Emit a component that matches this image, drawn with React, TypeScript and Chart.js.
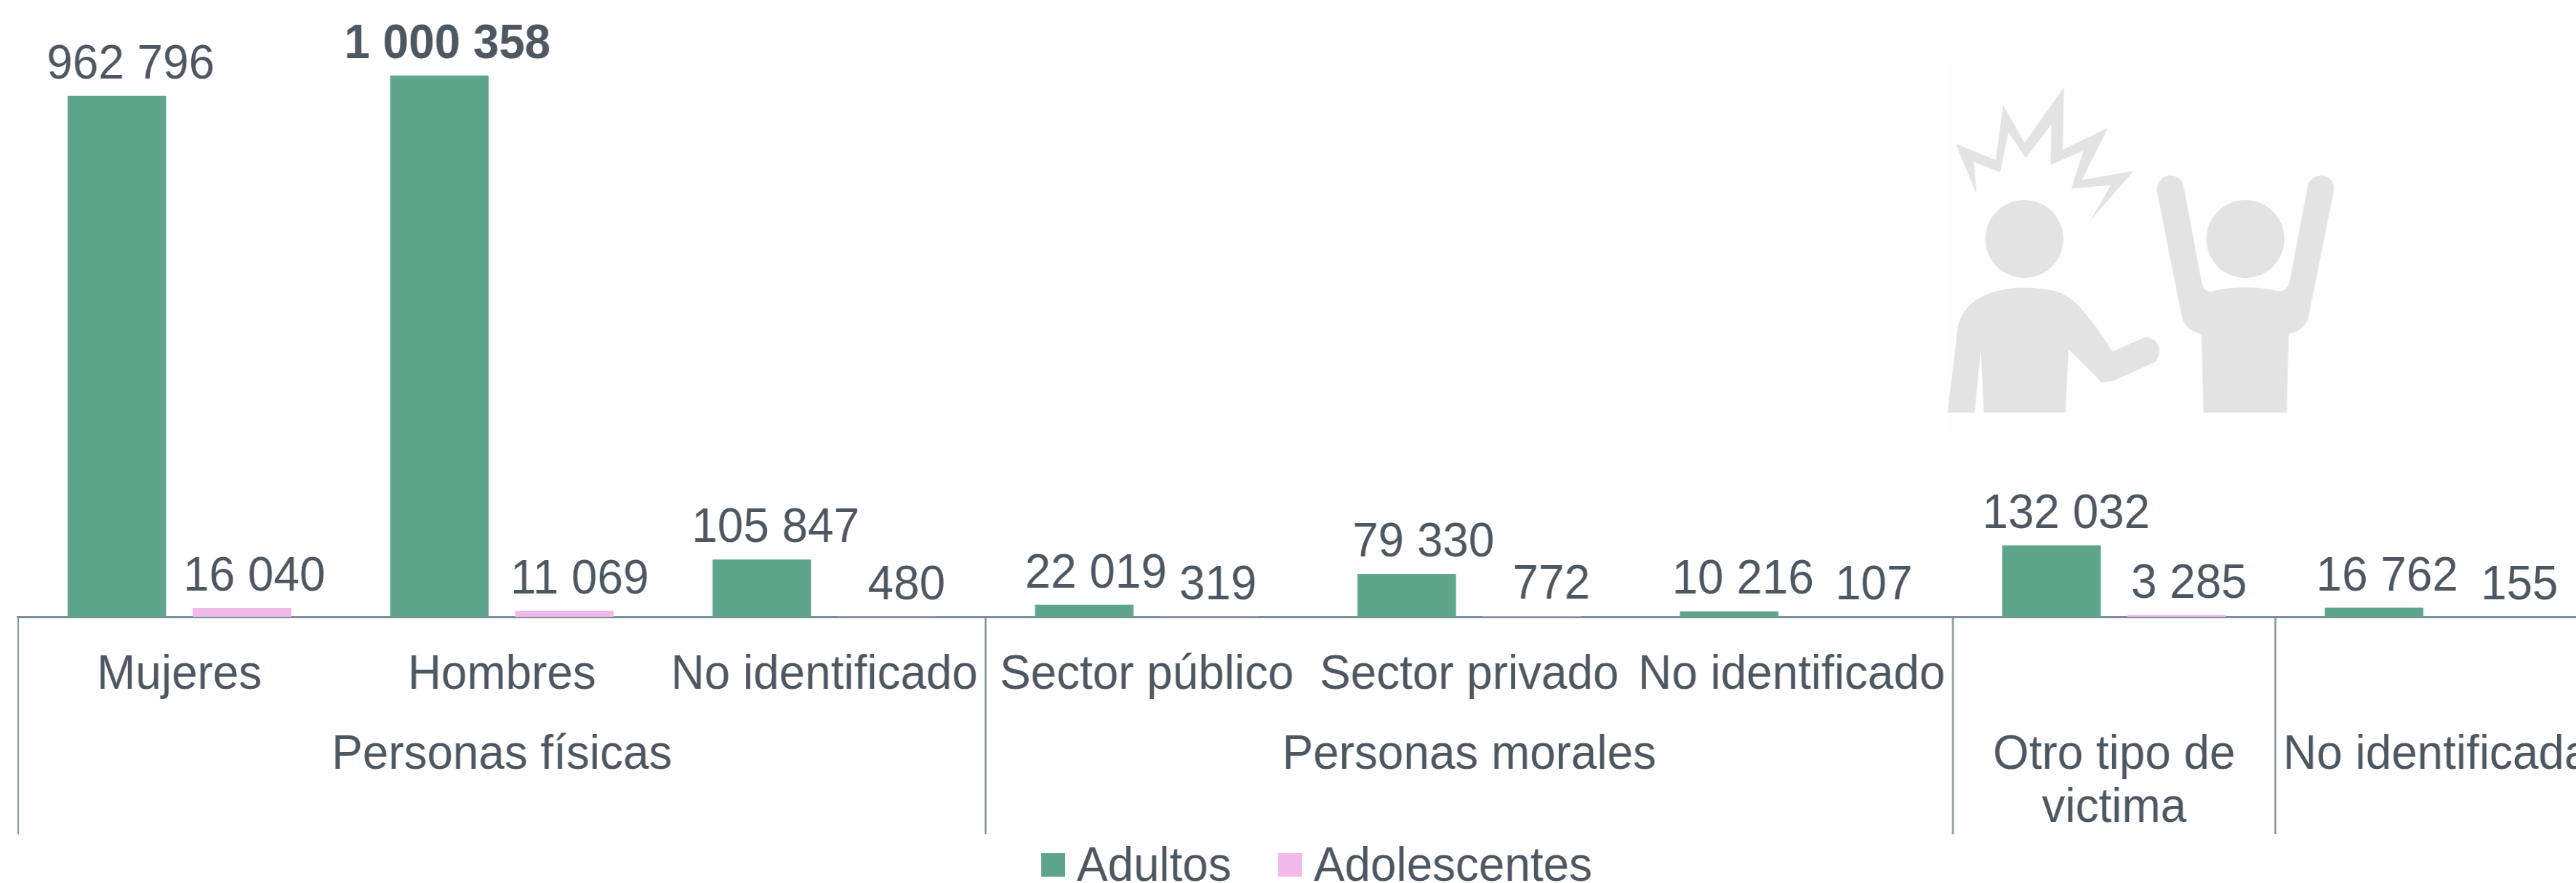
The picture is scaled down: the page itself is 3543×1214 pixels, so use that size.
import React, { useEffect, useRef } from "react";
import { Chart, registerables } from "chart.js";

Chart.register(...registerables);

const categories = ["Mujeres", "Hombres", "No identificado", "Sector público", "Sector privado", "No identificado", "", ""];
const adultos = [962796, 1000358, 105847, 22019, 79330, 10216, 132032, 16762];
const adolescentes = [16040, 11069, 480, 319, 772, 107, 3285, 155];
const groups = [
  { lines: ["Personas físicas"], from: 0, to: 2 },
  { lines: ["Personas morales"], from: 3, to: 5 },
  { lines: ["Otro tipo de", "victima"], from: 6, to: 6 },
  { lines: ["No identificada"], from: 7, to: 7 },
];
const seriesNames = ["Adultos", "Adolescentes"];

// Horizontal nudges of the value labels relative to their bars
const adultLabelShift = [19, 11, 19, 16, 23, 19, 20, 18];
const teenLabelShift = [17, 21, 27, 12, 27, 27, 17, 28];

const GREEN = "#5fa58c";
const PINK = "#f0b9e9";
const TEXT = "#4d5761";
const AXIS = "#7f8e9b";
const FONT = "'Liberation Sans', Arial, sans-serif";
const SIZE = 66;
// The reference's type is slightly condensed, so the whole canvas is drawn wider and narrowed by this factor.
const SX = 0.967;
const CANVAS_W = 3720;

const fmt = (v: number) => String(v).replace(/\B(?=(\d{3})+(?!\d))/g, " ");

// The square sits in the top of a taller image, which lifts it slightly against the legend text.
const squareMark = (color: string) => {
  const c = document.createElement("canvas");
  c.width = Math.round(33 / SX);
  c.height = 41;
  const g = c.getContext("2d")!;
  g.fillStyle = color;
  g.fillRect(0, 0, c.width, 33);
  return c;
};

const iconPlugin = {
  id: "icon",
  beforeDatasetsDraw(chart: any) {
    const { ctx } = chart;
    ctx.save();
    ctx.scale(1 / SX, 1);
    ctx.fillStyle = "#fefefe";
    ctx.fillRect(2678, 80, 532, 523);
    ctx.translate(2500, 60);
    ctx.scale(1 / 1.96, 1 / 2.8);
    ctx.fillStyle = "#e3e3e3";
    const paths = [
      "M372,385 L480,448 L500,238 L558,382 L664,168 L660,408 L782,325 L712,525 L852,490 L736,678 L790,545 L684,557 L716,412 L628,467 L630,310 L561,440 L514,340 L492,495 L421,455 L428,578 Z",
      "M350,1420 L378,1090 C390,1020 430,950 540,940 C620,938 670,950 710,1020 L750,1090 L795,1185 L880,1132 C915,1125 935,1185 910,1225 L795,1300 L765,1303 L676,1175 L668,1420 L448,1420 L440,1175 L423,1420 Z",
      "M1040,1420 L1035,1118 C1000,1105 985,1080 980,1040 L915,570 C910,490 985,490 987,555 L1035,920 C1040,950 1050,960 1075,950 C1120,935 1190,935 1230,950 C1255,960 1265,945 1272,920 L1320,555 C1325,490 1400,490 1391,570 L1325,1040 C1320,1080 1305,1105 1270,1118 L1264,1420 Z",
    ];
    paths.forEach((p) => ctx.fill(new Path2D(p)));
    ctx.beginPath();
    ctx.ellipse(557, 752, 105, 150, 0, 0, Math.PI * 2);
    ctx.closePath();
    ctx.fill();
    ctx.beginPath();
    ctx.ellipse(1153, 752, 105, 150, 0, 0, Math.PI * 2);
    ctx.closePath();
    ctx.fill();
    ctx.restore();
  },
};

const valueLabelPlugin = {
  id: "valueLabels",
  afterDatasetsDraw(chart: any) {
    const { ctx } = chart;
    ctx.save();
    ctx.fillStyle = TEXT;
    ctx.textAlign = "center";
    ctx.textBaseline = "alphabetic";
    const max = Math.max(...adultos);
    chart.data.datasets.forEach((ds: any, di: number) => {
      const shifts = di === 0 ? adultLabelShift : teenLabelShift;
      chart.getDatasetMeta(di).data.forEach((bar: any, i: number) => {
        const v = ds.data[i];
        ctx.font = `${v === max ? "bold " : ""}${SIZE}px ${FONT}`;
        ctx.fillText(fmt(v), bar.x + shifts[i] / SX, bar.y - 24);
      });
    });
    ctx.restore();
  },
};

const groupAxisPlugin = {
  id: "groupAxis",
  afterDraw(chart: any) {
    const { ctx } = chart;
    const x = chart.scales.x;
    const base = chart.chartArea.bottom;
    const half = (x.getPixelForValue(1) - x.getPixelForValue(0)) / 2;
    ctx.save();
    ctx.strokeStyle = AXIS;
    ctx.lineWidth = 2;
    const seps = new Set<number>();
    groups.forEach((g) => {
      seps.add(x.getPixelForValue(g.from) - half);
      seps.add(x.getPixelForValue(g.to) + half);
    });
    seps.forEach((px) => {
      ctx.beginPath();
      ctx.moveTo(px, base);
      ctx.lineTo(px, 1147);
      ctx.stroke();
    });
    ctx.fillStyle = TEXT;
    ctx.font = `${SIZE}px ${FONT}`;
    ctx.textAlign = "center";
    ctx.textBaseline = "alphabetic";
    groups.forEach((g) => {
      const cx = (x.getPixelForValue(g.from) + x.getPixelForValue(g.to)) / 2;
      g.lines.forEach((line, li) => ctx.fillText(line, cx, 1057 + li * 73));
    });
    ctx.restore();
  },
};

const LEGEND_PADDING = 83;

const legendPlacePlugin = {
  id: "legendPlace",
  afterLayout(chart: any) {
    const l = chart.legend;
    if (l) {
      const start = (l.left + LEGEND_PADDING + l.right - l.lineWidths[0]) / 2;
      const dx = 1448 / SX - start;
      l.left += dx;
      l.right += dx;
      l.top = 1160 - LEGEND_PADDING;
    }
  },
};

export default function App() {
  const ref = useRef<HTMLCanvasElement>(null);
  useEffect(() => {
    const chart = new Chart(ref.current!, {
      type: "bar",
      data: {
        labels: categories,
        datasets: [
          { label: seriesNames[0], data: adultos, backgroundColor: GREEN, categoryPercentage: 0.7756, barPercentage: 0.788 },
          { label: seriesNames[1], data: adolescentes, backgroundColor: PINK, categoryPercentage: 0.7756, barPercentage: 0.788 },
        ],
      },
      options: {
        responsive: false,
        animation: false,
        layout: { padding: { left: 25 / SX, right: CANVAS_W - 3573 / SX, top: 0, bottom: 0 } },
        plugins: {
          title: { display: false },
          tooltip: { enabled: false },
          legend: {
            display: true,
            position: "bottom",
            labels: {
              usePointStyle: true,
              pointStyleWidth: 1,
              padding: LEGEND_PADDING,
              color: TEXT,
              font: { size: SIZE, family: FONT },
              generateLabels: (c: any) =>
                c.data.datasets.map((d: any, i: number) => ({
                  text: d.label,
                  fillStyle: d.backgroundColor,
                  strokeStyle: d.backgroundColor,
                  lineWidth: 0,
                  fontColor: TEXT,
                  datasetIndex: i,
                  pointStyle: squareMark(d.backgroundColor),
                })),
            },
          },
        },
        scales: {
          x: {
            grid: { display: false, drawTicks: false },
            border: { color: AXIS, width: 3 },
            ticks: {
              autoSkip: false,
              maxRotation: 0,
              minRotation: 0,
              padding: 41,
              color: TEXT,
              font: { size: SIZE, family: FONT },
            },
            afterFit: (s: any) => {
              s.height = 1214 - 848 - (s.chart.legend?.height || 0);
            },
          },
          y: { display: false, min: 0, max: 1140000 },
        },
      } as any,
      plugins: [iconPlugin, valueLabelPlugin, groupAxisPlugin, legendPlacePlugin],
    });
    return () => chart.destroy();
  }, []);
  return (
    <div style={{ position: "fixed", left: 0, top: 0, width: 3543, height: 1214, overflow: "hidden", background: "#fff" }}>
      <canvas
        ref={ref}
        width={CANVAS_W}
        height={1214}
        style={{ display: "block", transform: `scaleX(${SX})`, transformOrigin: "0 0" }}
      />
    </div>
  );
}
